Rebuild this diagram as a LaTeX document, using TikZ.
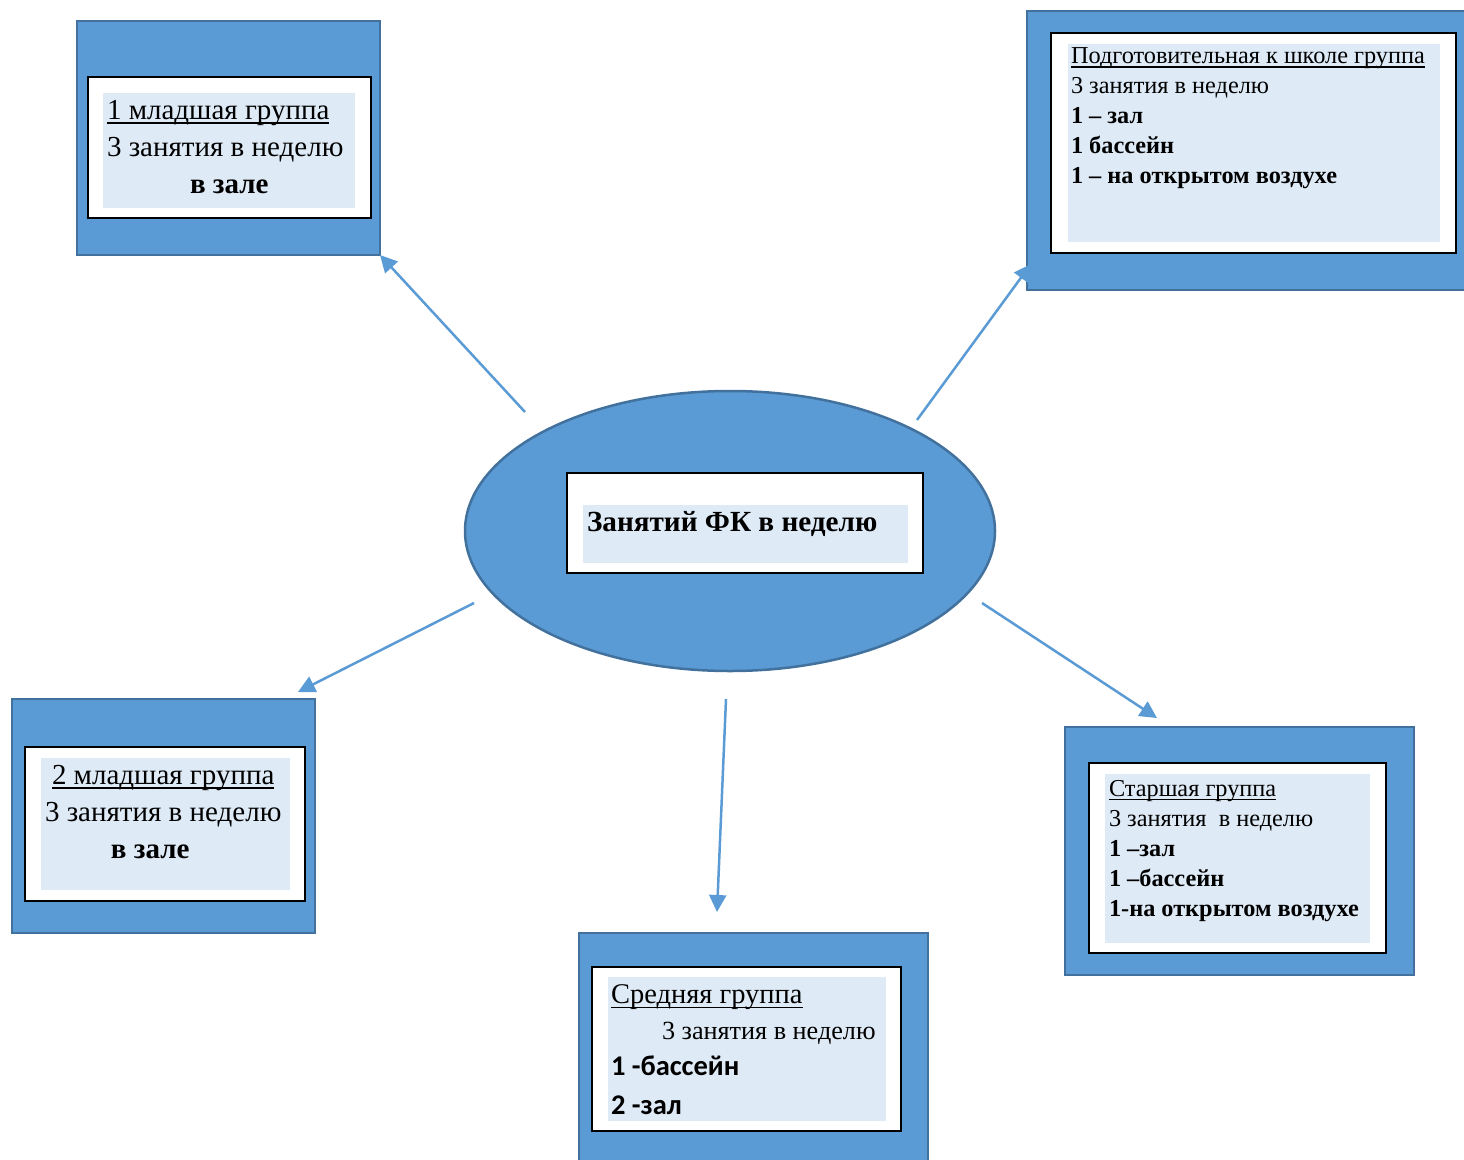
\documentclass[tikz,border=0pt]{standalone}
\usepackage{fontspec}
\setmainfont{Liberation Serif}
\newfontfamily\calibrifont{Carlito}
\usepackage{xcolor}
\usetikzlibrary{shapes.geometric, arrows.meta}

\definecolor{boxblue}{HTML}{5B9BD5}
\definecolor{frameblue}{HTML}{41719C}
\definecolor{paleblue}{HTML}{DEEAF6}

\newcommand{\grpuline}[1]{\setbox0\hbox{#1}\rlap{\rule[-0.16em]{\wd0}{0.055em}}\box0}

\tikzset{
  outerbox/.style={rectangle, draw=frameblue, fill=boxblue, line width=2.5pt, inner sep=0pt, outer sep=0pt, anchor=north west},
  whitebox/.style={rectangle, draw=black, fill=white, line width=2pt, inner sep=0pt, outer sep=0pt, anchor=north west},
  palebox/.style={rectangle, fill=paleblue, inner sep=0pt, outer sep=0pt, anchor=north west},
  grouptext/.style={align=left, inner sep=0pt, outer sep=0pt, anchor=north west},
  link/.style={draw=boxblue, line width=2.5pt, -{Triangle[width=17pt, length=17pt]}}
}

\begin{document}
\begin{tikzpicture}[x=1pt, y=-1pt]
            \clip (0, 0) rectangle (1464, 1159);

            % centre
            \node[ellipse, draw=frameblue, fill=boxblue, line width=2.5pt, minimum width=530pt, minimum height=280pt] (fk) at (730, 531) {};
            \node[whitebox, minimum width=356pt, minimum height=100pt] (fkw) at (567, 473) {};
            \node[palebox, minimum width=325pt, minimum height=58pt] (fkf) at (583, 505) {};
            \node[grouptext, font=\fontsize{29.2}{36}\selectfont\bfseries] (fkt) at (587, 511) {Занятий ФК в неделю};

            % 1 младшая
            \node[outerbox, minimum width=303pt, minimum height=234pt] (jun1) at (77, 21) {};
            \node[whitebox, minimum width=283pt, minimum height=141pt] (jun1w) at (88, 77) {};
            \node[palebox, minimum width=252pt, minimum height=115pt] (jun1f) at (103, 93) {};
            \node[grouptext, font=\fontsize{29}{37}\selectfont] (jun1t) at (107, 100) {\grpuline{1 младшая группа}\\ 3 занятия в неделю\\ \hspace*{83pt}\textbf{в зале}};

            % подготовительная
            \node[outerbox, minimum width=460pt, minimum height=279pt] (prep) at (1027, 11) {};
            \node[whitebox, minimum width=405pt, minimum height=220pt] (prepw) at (1051, 33) {};
            \node[palebox, minimum width=372pt, minimum height=198pt] (prepf) at (1068, 44) {};
            \node[grouptext, font=\fontsize{24.3}{30}\selectfont] (prept) at (1071, 48) {\grpuline{Подготовительная к школе группа}\\ 3 занятия в неделю\\ \textbf{1 – зал}\\ \textbf{1 бассейн}\\ \textbf{1 – на открытом воздухе}};

            % 2 младшая
            \node[outerbox, minimum width=303pt, minimum height=234pt] (jun2) at (12, 699) {};
            \node[whitebox, minimum width=280pt, minimum height=154pt] (jun2w) at (25, 747) {};
            \node[palebox, minimum width=249pt, minimum height=132pt] (jun2f) at (41, 758) {};
            \node[grouptext, font=\fontsize{29}{37}\selectfont] (jun2t) at (45, 765) {\hspace*{7pt}\grpuline{2 младшая группа}\\ 3 занятия в неделю\\ \hspace*{66pt}\textbf{в зале}};

            % средняя
            \node[outerbox, minimum width=349pt, minimum height=232pt] (mid) at (579, 933) {};
            \node[whitebox, minimum width=309pt, minimum height=164pt] (midw) at (592, 967) {};
            \node[palebox, minimum width=278pt, minimum height=144pt] (midf) at (608, 977) {};
            \node[grouptext, font=\fontsize{28.5}{36}\selectfont] (midt) at (611, 985) {\grpuline{Средняя группа}\\ {\fontsize{26.2}{33}\selectfont\hspace*{51pt}3 занятия в неделю}\\ {\calibrifont\bfseries\fontsize{28.5}{39}\selectfont 1 -бассейн}\\[3pt] {\calibrifont\bfseries\fontsize{28.5}{39}\selectfont 2 -зал}};

            % старшая
            \node[outerbox, minimum width=349pt, minimum height=248pt] (sen) at (1065, 727) {};
            \node[whitebox, minimum width=297pt, minimum height=190pt] (senw) at (1089, 763) {};
            \node[palebox, minimum width=265pt, minimum height=169pt] (senf) at (1105, 774) {};
            \node[grouptext, font=\fontsize{24.3}{30}\selectfont] (sent) at (1109, 780) {\grpuline{Старшая группа}\\ 3 занятия\ \ в неделю\\ \textbf{1 –зал}\\ \textbf{1 –бассейн}\\ \textbf{1-на открытом воздухе}};

            \coordinate (s1) at (525, 412);
            \coordinate (s2) at (917, 420);
            \coordinate (s3) at (474, 603);
            \coordinate (s4) at (726, 699);
            \coordinate (s5) at (982, 603);

            \draw[link] (s1) -- (jun1.south east);
            \draw[link] (s2) -- ([shift={(4, -26)}]prep.south west);
            \draw[link] (s3) -- ([shift={(-17, -7)}]jun2.north east);
            \draw[link] (s4) -- ([shift={(-36.5, -21)}]mid.north);
            \draw[link] (s5) -- ([shift={(-82.5, -9)}]sen.north);
        \end{tikzpicture}
\end{document}
